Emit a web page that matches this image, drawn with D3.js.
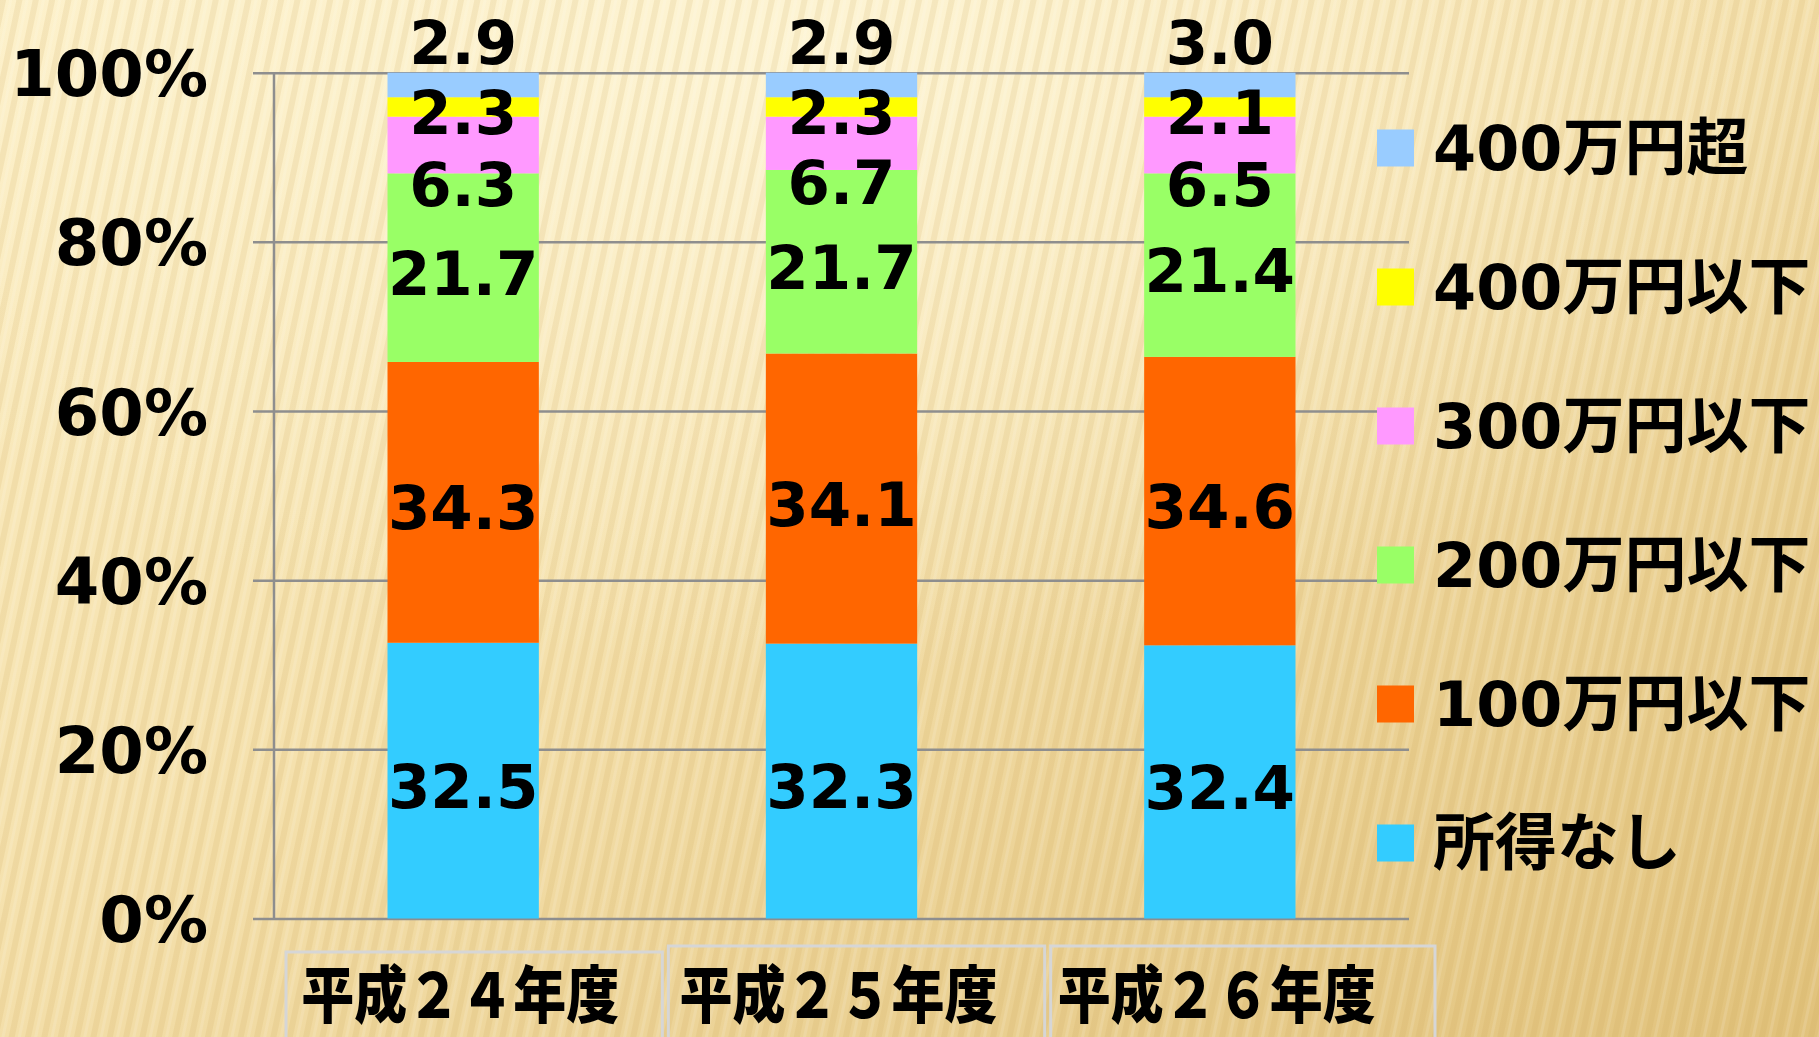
<!DOCTYPE html>
<html>
<head>
<meta charset="utf-8">
<script src="https://cdn.jsdelivr.net/npm/d3@7"></script>
<style>
  html, body { margin: 0; padding: 0; overflow: hidden; }
  svg { display: block; }
</style>
</head>
<body>
<svg id="chart"></svg>
<script>
// data (percent of total)
var categories = ["平成２４年度", "平成２５年度", "平成２６年度"];
var seriesNames = ["所得なし", "100万円以下", "200万円以下", "300万円以下", "400万円以下", "400万円超"];

// bar heights as drawn in the picture
var noIncome = [32.6, 32.5, 32.3];
var under100 = [33.2, 34.3, 34.1];
var under200 = [22.3, 21.7, 21.7];
var under300 = [6.7, 6.3, 6.7];
var under400 = [2.3, 2.3, 2.3];
var over400 = [2.9, 2.9, 2.9];

// numbers printed on the bars
var noIncomeLabel = [32.5, 32.3, 32.4];
var under100Label = [34.3, 34.1, 34.6];
var under200Label = [21.7, 21.7, 21.4];
var under300Label = [6.3, 6.7, 6.5];
var under400Label = [2.3, 2.3, 2.1];
var over400Label = [2.9, 2.9, 3.0];

var yTicks = [0, 20, 40, 60, 80, 100];

var colors = ["#33CCFF", "#FF6600", "#99FF66", "#FF99FF", "#FFFF00", "#99CCFF"];

var W = 1819, H = 1037;
var svg = d3.select("#chart").attr("width", W).attr("height", H);

// background: warm gold with faint stripes
var defs = svg.append("defs");
var bg = defs.append("linearGradient").attr("id", "bg")
    .attr("x1", 0).attr("y1", 0).attr("x2", 1).attr("y2", 1);
bg.append("stop").attr("offset", "0%").attr("stop-color", "#FCEFC6");
bg.append("stop").attr("offset", "45%").attr("stop-color", "#F5E1AD");
bg.append("stop").attr("offset", "100%").attr("stop-color", "#E1C27C");
var glow = defs.append("radialGradient").attr("id", "glow")
    .attr("cx", 0.45).attr("cy", 0.05).attr("r", 0.6);
glow.append("stop").attr("offset", "0%").attr("stop-color", "#FFF8DC").attr("stop-opacity", 0.8);
glow.append("stop").attr("offset", "100%").attr("stop-color", "#FFF8DC").attr("stop-opacity", 0);
var stripes = defs.append("pattern").attr("id", "stripes")
    .attr("patternUnits", "userSpaceOnUse")
    .attr("width", 16).attr("height", 16)
    .attr("patternTransform", "rotate(12)");
stripes.append("rect").attr("width", 6).attr("height", 16)
    .attr("fill", "#C9A24E").attr("opacity", 0.15);
stripes.append("rect").attr("x", 9).attr("width", 3).attr("height", 16)
    .attr("fill", "#FFFFFF").attr("opacity", 0.12);

svg.append("rect").attr("width", W).attr("height", H).attr("fill", "url(#bg)");
svg.append("rect").attr("width", W).attr("height", H).attr("fill", "url(#glow)");
svg.append("rect").attr("width", W).attr("height", H).attr("fill", "url(#stripes)");

// scales
var x = d3.scaleBand()
    .domain(categories)
    .range([274, 1409])
    .paddingInner(0.6)
    .paddingOuter(0.3);
var y = d3.scaleLinear()
    .domain([0, 100])
    .range([918.5, 72.7]);

var barCols = [noIncome, under100, under200, under300, under400, over400];
var labelCols = [noIncomeLabel, under100Label, under200Label, under300Label, under400Label, over400Label];
var rows = categories.map(function (c, i) {
    var r = { cat: c, idx: i };
    seriesNames.forEach(function (s, si) { r[s] = barCols[si][i]; });
    return r;
});
var stacked = d3.stack().keys(seriesNames)(rows);

// gridlines + y axis
var yAxis = d3.axisLeft(y)
    .tickValues(yTicks)
    .tickSize(-(1409 - 253))
    .tickPadding(45)
    .tickFormat(function (d) { return d + "%"; });
var gy = svg.append("g").attr("transform", "translate(253,0)").call(yAxis);
gy.select(".domain").remove();
gy.selectAll(".tick line").attr("stroke", "#8E8E8E").attr("stroke-width", 2.5);
gy.selectAll(".tick text")
    .attr("fill", "#000")
    .style("font-family", "'DejaVu Sans', Verdana, sans-serif")
    .style("font-weight", "bold")
    .style("font-size", "64px")
    .attr("dy", "0.36em");
svg.append("line")
    .attr("x1", 274).attr("x2", 274)
    .attr("y1", y(100)).attr("y2", y(0))
    .attr("stroke", "#8E8E8E").attr("stroke-width", 2.5);

// bars
var layer = svg.append("g").selectAll("g")
    .data(stacked)
    .enter().append("g")
    .attr("fill", function (d, i) { return colors[i]; });
layer.selectAll("rect")
    .data(function (d) { return d; })
    .enter().append("rect")
    .attr("x", function (d) { return x(d.data.cat); })
    .attr("width", x.bandwidth())
    .attr("y", function (d) { return y(d[1]); })
    .attr("height", function (d) { return y(d[0]) - y(d[1]); });

// value labels, centred on their segment (top one sits above the bar)
var fmt = d3.format(".1f");
stacked.forEach(function (s, si) {
    svg.append("g").selectAll("text")
        .data(s)
        .enter().append("text")
        .attr("x", function (d) { return x(d.data.cat) + x.bandwidth() / 2; })
        .attr("y", function (d) {
            if (s.key === "400万円超") return y(100) - 31;
            var mid = (y(d[0]) + y(d[1])) / 2 + 5;
            if (s.key === "300万円以下") mid += 34;
            return mid;
        })
        .attr("dy", "0.36em")
        .attr("text-anchor", "middle")
        .style("font-family", "'DejaVu Sans', Verdana, sans-serif")
        .style("font-weight", "bold")
        .style("font-size", "61px")
        .attr("fill", "#000")
        .text(function (d) { return fmt(labelCols[si][d.data.idx]); });
});

// category boxes and labels
var boxG = svg.append("g");
boxG.selectAll("rect")
    .data(categories)
    .enter().append("rect")
    .attr("x", function (d, i) { return x(d) + x.bandwidth() / 2 - x.step() / 2 + 12 + i * 4; })
    .attr("y", function (d, i) { return i === 0 ? 952 : 946; })
    .attr("width", function (d, i) { return i === 2 ? x.step() + 6 : x.step() - 2; })
    .attr("height", 200)
    .attr("fill", "none")
    .attr("stroke", "#D6D6D6")
    .attr("stroke-width", 3);
boxG.selectAll("text")
    .data(categories)
    .enter().append("text")
    .attr("x", function (d) { return x(d) + x.bandwidth() / 2 - 3; })
    .attr("y", 996)
    .attr("dy", "0.35em")
    .attr("text-anchor", "middle")
    .attr("textLength", 318)
    .attr("lengthAdjust", "spacingAndGlyphs")
    .style("font-family", "'Noto Sans CJK JP', sans-serif")
    .style("font-weight", "900")
    .style("font-size", "62px")
    .attr("fill", "#000")
    .text(function (d) { return d; });

// legend (top entry = last series)
var legendItems = seriesNames.slice().reverse();
var ly = d3.scalePoint().domain(legendItems).range([148, 843]);
var leg = svg.append("g").selectAll("g")
    .data(legendItems)
    .enter().append("g")
    .attr("transform", function (d) { return "translate(1377," + ly(d) + ")"; });
leg.append("rect")
    .attr("x", 0).attr("y", -18.5)
    .attr("width", 37).attr("height", 37)
    .attr("fill", function (d) { return colors[seriesNames.indexOf(d)]; });
leg.append("text")
    .attr("x", 56).attr("y", 0)
    .attr("dy", "0.36em")
    .style("font-family", "'DejaVu Sans', 'Noto Sans CJK JP', sans-serif")
    .style("font-weight", "bold")
    .style("font-size", "62px")
    .attr("fill", "#000")
    .text(function (d) { return d; });
</script>
</body>
</html>
